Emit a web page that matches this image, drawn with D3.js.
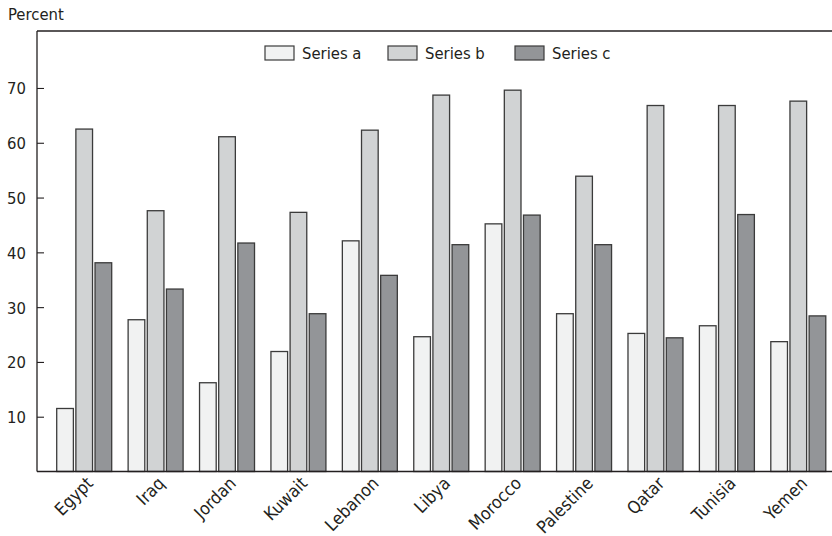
<!DOCTYPE html>
<html><head><meta charset="utf-8">
<script src="https://cdn.jsdelivr.net/npm/d3@7"></script>
<style>
html,body{margin:0;padding:0;background:#fff;}
svg text{font-family:"DejaVu Sans Condensed","DejaVu Sans",sans-serif;font-stretch:condensed;fill:#231f20;}
</style></head>
<body><svg id="c" width="832" height="536"></svg>
<script>
const categories = ["Egypt","Iraq","Jordan","Kuwait","Lebanon","Libya","Morocco","Palestine","Qatar","Tunisia","Yemen"];
const seriesNames = ["Series a","Series b","Series c"];
const seriesA = [11.5,27.7,16.2,21.9,42.1,24.6,45.2,28.8,25.2,26.6,23.7];
const seriesB = [62.5,47.6,61.1,47.3,62.3,68.7,69.6,53.9,66.8,66.8,67.6];
const seriesC = [38.1,33.3,41.7,28.8,35.8,41.4,46.8,41.4,24.4,46.9,28.4];
const yTicks = [10,20,30,40,50,60,70];
const colors = ["#f1f2f2","#d1d3d4","#939598"];

const svg = d3.select("#c");
const pLeft = 37, pTop = 31, pBottom = 471.5, pRight = 832;
const y = d3.scaleLinear().domain([0, 80.4]).range([pBottom, pTop]);
const x0 = d3.scaleBand().domain(categories).range([48.5, 834]).paddingInner(0.23).paddingOuter(0.115);
const x1 = d3.scaleBand().domain(seriesNames).range([0, x0.bandwidth()]).paddingInner(0.13);
const allSeries = [seriesA, seriesB, seriesC];

// bars
const g = svg.append("g");
categories.forEach((cat, i) => {
  seriesNames.forEach((s, j) => {
    g.append("rect")
      .attr("x", x0(cat) + x1(s))
      .attr("y", y(allSeries[j][i]))
      .attr("width", x1.bandwidth())
      .attr("height", y(0) - y(allSeries[j][i]))
      .attr("fill", colors[j])
      .attr("stroke", "#3b3b3b")
      .attr("stroke-width", 1.3);
  });
});

// frame: top, bottom
svg.append("line").attr("x1", pLeft).attr("x2", pRight).attr("y1", pTop).attr("y2", pTop).attr("stroke", "#231f20").attr("stroke-width", 1.3);
svg.append("line").attr("x1", pLeft).attr("x2", pRight).attr("y1", pBottom).attr("y2", pBottom).attr("stroke", "#231f20").attr("stroke-width", 1.3);

// y axis with inner ticks
const yAxis = d3.axisRight(y).tickValues(yTicks).tickSize(7).tickFormat(d3.format("d"));
const ya = svg.append("g").attr("transform", `translate(${pLeft},0)`).call(yAxis);
ya.select(".domain").attr("d", `M0,${pTop}V${pBottom}`).attr("stroke", "#231f20").attr("stroke-width", 1.3);
ya.selectAll(".tick line").attr("stroke", "#231f20").attr("stroke-width", 1.1);
ya.selectAll(".tick text").attr("x", -11).attr("dy", "0.36em").attr("text-anchor", "end")
  .style("font-size", "16.5px").attr("fill", "#231f20");

// x axis labels
const xa = svg.append("g");
categories.forEach(cat => {
  const cx = x0(cat) + x0.bandwidth() / 2;
  xa.append("text")
    .attr("transform", `translate(${cx + 10},${pBottom + 13}) rotate(-45)`)
    .attr("text-anchor", "end")
    .style("font-size", "17.5px")
    .text(cat);
});

// y title
svg.append("text").attr("x", 8).attr("y", 20).style("font-size", "16.5px").text("Percent");

// legend
const legX = [265, 388, 515];
seriesNames.forEach((s, j) => {
  svg.append("rect").attr("x", legX[j]).attr("y", 46).attr("width", 29).attr("height", 14)
    .attr("fill", colors[j]).attr("stroke", "#3b3b3b").attr("stroke-width", 1.2);
  svg.append("text").attr("x", legX[j] + 37).attr("y", 59).style("font-size", "16.5px").text(s);
});
</script></body></html>
